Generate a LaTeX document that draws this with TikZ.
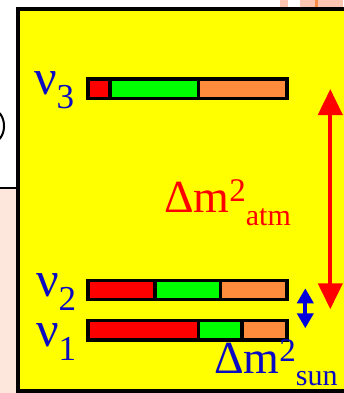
\documentclass[tikz,border=0pt]{standalone}
\usepackage{fontspec}
\setmainfont{Liberation Serif}
\usetikzlibrary{arrows.meta}
\definecolor{bgpink}{RGB}{253,230,220}
\definecolor{strippink}{RGB}{252,198,178}
\definecolor{striporange}{RGB}{250,140,70}
\definecolor{boxyellow}{RGB}{255,255,0}
\definecolor{barred}{RGB}{255,0,0}
\definecolor{bargreen}{RGB}{0,255,0}
\definecolor{barorange}{RGB}{255,140,60}
\definecolor{txtblue}{RGB}{10,10,195}
\definecolor{arrblue}{RGB}{0,0,220}
\tikzset{
  barline/.style={draw=black,line width=3.5pt},
  lbl/.style={anchor=base west,inner sep=0pt,outer sep=0pt},
  nulbl/.style={lbl,text=txtblue},
}
\newcommand{\bigsz}{\fontsize{50}{50}\selectfont}
\newcommand{\subsz}{\fontsize{35}{35}\selectfont}
\newcommand{\dmsz}{\fontsize{46}{46}\selectfont}
\newcommand{\supsz}{\fontsize{33}{33}\selectfont}
\newcommand{\lowsz}{\fontsize{30}{30}\selectfont}
\begin{document}
\begin{tikzpicture}[x=1pt,y=-1pt]
\useasboundingbox (0,0) rectangle (343,393);
% background pieces outside the box
\fill[white] (0,0) rectangle (343,393);
\fill[bgpink] (0,188.3) rectangle (18,393);
\draw[black,line width=2pt] (0,188.3) -- (17,188.3);
\fill[strippink] (280,0) rectangle (288,8);
\fill[strippink] (300,0) rectangle (343,8);
\fill[striporange] (315,0) rectangle (318,8);
\draw[black,line width=2pt] (-8,126) ++(70:14 and 16) arc[start angle=70,end angle=-70,x radius=11,y radius=16];
% yellow box
\filldraw[fill=boxyellow,draw=black,line width=4pt] (18,8.7) rectangle (365,390.5);
% nu3 bar
\fill[barred] (88,79) rectangle (110,98.5);
\fill[bargreen] (110,79) rectangle (198.5,98.5);
\fill[barorange] (198.5,79) rectangle (287,98.5);
\draw[barline] (88,79) rectangle (287,98.5);
\draw[barline] (110,79) -- (110,98.5);
\draw[barline] (198.5,79) -- (198.5,98.5);
% nu2 bar
\fill[barred] (88,280.7) rectangle (155,299.3);
\fill[bargreen] (155,280.7) rectangle (220.7,299.3);
\fill[barorange] (220.7,280.7) rectangle (287,299.3);
\draw[barline] (88,280.7) rectangle (287,299.3);
\draw[barline] (155,280.7) -- (155,299.3);
\draw[barline] (220.7,280.7) -- (220.7,299.3);
% nu1 bar
\fill[barred] (88,320.4) rectangle (198.5,340);
\fill[bargreen] (198.5,320.4) rectangle (242,340);
\fill[barorange] (242,320.4) rectangle (287,340);
\draw[barline] (88,320.4) rectangle (287,340);
\draw[barline] (198.5,320.4) -- (198.5,340);
\draw[barline] (242,320.4) -- (242,340);
% labels
\node[nulbl] (nu3) at (34,95) {\bigsz ν\raisebox{-14pt}{\subsz 3}};
\node[nulbl] (nu2) at (36,296.7) {\bigsz ν\raisebox{-13.3pt}{\subsz 2}};
\node[nulbl] (nu1) at (36,346.7) {\bigsz ν\raisebox{-13.3pt}{\subsz 1}};
\node[lbl,text=barred] (atm) at (164,212.7) {\dmsz Δm\raisebox{11pt}{\supsz 2}\raisebox{-12.3pt}{\lowsz atm}};
\node[lbl,text=txtblue] (sun) at (214,373.3) {\dmsz Δm\raisebox{11.6pt}{\supsz 2}\raisebox{-11.7pt}{\lowsz sun}};
% arrows
\coordinate (atop) at (330.3,89);
\coordinate (abot) at (330.3,309.3);
\draw[barred,line width=4.3pt,{Triangle[length=26pt,width=24pt]}-{Triangle[length=26pt,width=24pt]}] (atop) -- (abot);
\coordinate (stop) at (305.3,288.3);
\coordinate (sbot) at (305.3,328.3);
\draw[arrblue,line width=4pt,{Triangle[length=15pt,width=16pt]}-{Triangle[length=15pt,width=16pt]}] (stop) -- (sbot);
\end{tikzpicture}
\end{document}
